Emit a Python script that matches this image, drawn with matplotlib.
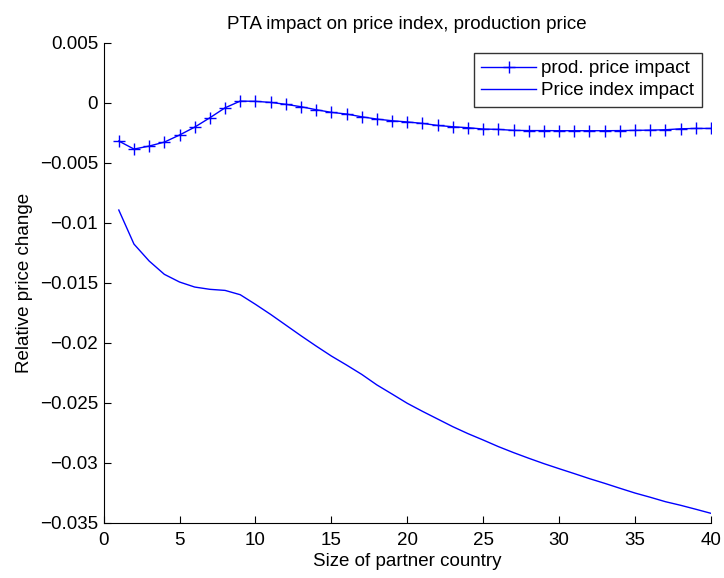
import matplotlib
matplotlib.use("Agg")
import matplotlib.pyplot as plt

plt.rcParams['font.family'] = ['Liberation Sans', 'DejaVu Sans']

# partner country size
size = list(range(1, 41))

# producer price impact (with + markers)
prod_price = [-0.00319, -0.00386, -0.00361, -0.00328, -0.00269, -0.00203, -0.00125, -0.00042,
              0.00014, 0.00012, 0.00003, -0.00013, -0.00033, -0.00058, -0.00080, -0.00094,
              -0.00117, -0.00136, -0.00150, -0.00160, -0.00172, -0.00189, -0.00200, -0.00208,
              -0.00219, -0.00222, -0.00230, -0.00232, -0.00232, -0.00233, -0.00233, -0.00233,
              -0.00233, -0.00232, -0.00230, -0.00228, -0.00225, -0.00217, -0.00214, -0.00214]

# price index impact
price_index = [-0.00894, -0.01178, -0.01319, -0.01430, -0.01494, -0.01536, -0.01555, -0.01564,
               -0.01600, -0.01680, -0.01764, -0.01853, -0.01942, -0.02028, -0.02111, -0.02186,
               -0.02264, -0.02352, -0.02428, -0.02505, -0.02572, -0.02636, -0.02700, -0.02758,
               -0.02811, -0.02866, -0.02916, -0.02963, -0.03008, -0.03050, -0.03091, -0.03133,
               -0.03172, -0.03213, -0.03253, -0.03288, -0.03325, -0.03355, -0.03388, -0.03422]

y_ticks = [0.005, 0, -0.005, -0.01, -0.015, -0.02, -0.025, -0.03, -0.035]
y_labels = ['0.005', '0', '\u22120.005', '\u22120.01', '\u22120.015', '\u22120.02',
            '\u22120.025', '\u22120.03', '\u22120.035']

fs = 13.5

fig = plt.figure(figsize=(7.24, 5.78), dpi=100)
ax = fig.add_axes([0.1431, 0.0957, 0.982 - 0.1431, 0.926 - 0.0957])

ax.plot(size, prod_price, color='#0000ff', linewidth=1.0, marker='+',
        markersize=9, markeredgewidth=1.0, label='prod. price impact')
ax.plot(size, price_index, color='#0000ff', linewidth=1.0, label='Price index impact')

ax.set_xlim(0, 40)
ax.set_ylim(-0.035, 0.005)
ax.set_xticks(range(0, 41, 5))
ax.set_yticks(y_ticks)
ax.set_yticklabels(y_labels)

# MATLAB-like look: no box, inward ticks
ax.spines['top'].set_visible(False)
ax.spines['right'].set_visible(False)
ax.tick_params(direction='in', length=5, labelsize=fs)
ax.tick_params(axis='y', pad=4)
ax.tick_params(axis='x', pad=6.5)

ax.set_title('PTA impact on price index, production price', fontsize=fs, pad=10)
ax.set_xlabel('Size of partner country', fontsize=fs, labelpad=3)
ax.set_ylabel('Relative price change', fontsize=fs, labelpad=5)

leg = ax.legend(loc='upper right', bbox_to_anchor=(0.985, 0.979), borderaxespad=0,
                fontsize=fs, frameon=True, fancybox=False, handlelength=2.9,
                borderpad=0.4, labelspacing=0.25, handletextpad=0.3)
leg.get_frame().set_edgecolor('black')
leg.get_frame().set_linewidth(1.0)

fig.savefig('out.png', dpi=100)
